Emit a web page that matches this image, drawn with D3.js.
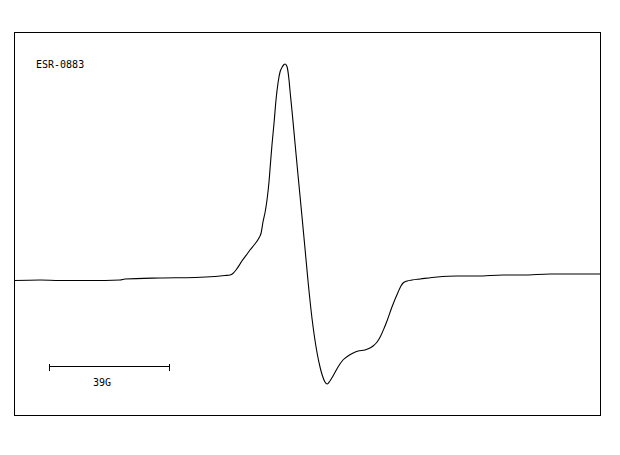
<!DOCTYPE html>
<html>
<head>
<meta charset="utf-8">
<script src="https://cdn.jsdelivr.net/npm/d3@7"></script>
<style>
  html, body { margin: 0; padding: 0; background: #fff; }
  svg { display: block; }
  text { font-family: "DejaVu Sans Mono", monospace; font-size: 10px; fill: #000; }
</style>
</head>
<body>
<svg id="chart" width="620" height="455"></svg>
<script>
// Magnetic field (G, relative) and derivative intensity (arbitrary units)
const field = [0.0, 8.4, 14.8, 24.5, 34.2, 35.8, 47.1, 58.4, 64.8, 68.1, 69.7, 70.6, 71.6, 72.9, 73.5, 75.2, 76.1, 77.7, 79.0, 79.7, 80.3, 81.0, 81.6, 82.3, 82.6, 83.2, 83.9, 84.5, 85.2, 85.8, 86.5, 87.1, 87.4, 87.7, 88.1, 88.7, 89.0, 89.7, 90.6, 91.6, 92.9, 93.9, 94.8, 96.1, 97.7, 98.7, 99.4, 100.3, 101.0, 101.9, 102.9, 104.5, 106.1, 107.7, 109.4, 111.0, 113.2, 114.8, 115.8, 117.1, 118.1, 119.4, 120.3, 121.9, 123.9, 124.8, 125.5, 126.8, 128.4, 131.0, 136.5, 142.9, 149.4, 157.7, 164.2, 172.9, 181.0, 189.0];
const intensity = [-0.5, 0, -0.5, -0.5, 0, 1, 2, 2.5, 3.5, 4.5, 5, 6.5, 10, 16, 19, 26, 30, 36, 42, 47, 58, 68, 80, 100, 112, 135, 158, 180, 198, 208, 213, 215.5, 216, 215.5, 213, 200, 190, 168, 138, 105, 63, 30, 0, -38, -72, -87, -95, -102, -104, -101, -96, -87, -80, -76, -73, -71, -70, -68, -66, -62, -57, -48, -41, -27, -12, -6, -3, -1, 0, 1, 3, 4, 4, 5, 5, 6, 6, 6];
const sampleLabel = "ESR-0883";
const scaleBarStart = 11.3;   // G
const scaleBarLength = 39;    // G
const scaleBarLevel = -86;    // intensity units
const scaleBarLabel = "39G";

const svg = d3.select("#chart");
const frame = { left: 14, top: 32, right: 600, bottom: 415 };

const x = d3.scaleLinear().domain([0, 189]).range([frame.left, frame.right]);
const y = d3.scaleLinear().domain([-135, 248]).range([frame.bottom, frame.top]);

svg.append("rect")
  .attr("x", frame.left + 0.5).attr("y", frame.top + 0.5)
  .attr("width", frame.right - frame.left).attr("height", frame.bottom - frame.top)
  .attr("fill", "none").attr("stroke", "#000").attr("stroke-width", 1)
  .attr("shape-rendering", "crispEdges");

const pts = field.map((f, i) => [f, intensity[i]]);
const line = d3.line().x(d => x(d[0])).y(d => y(d[1])).curve(d3.curveMonotoneX);

svg.append("path")
  .attr("d", line(pts))
  .attr("fill", "none").attr("stroke", "#000").attr("stroke-width", 1.1);

// scale bar
const bx0 = x(scaleBarStart), bx1 = x(scaleBarStart + scaleBarLength), by = Math.round(y(scaleBarLevel)) + 0.5;
const g = svg.append("g").attr("stroke", "#000").attr("stroke-width", 1).attr("shape-rendering", "crispEdges");
g.append("line").attr("x1", bx0).attr("x2", bx1).attr("y1", by).attr("y2", by);
g.append("line").attr("x1", bx0).attr("x2", bx0).attr("y1", by - 3).attr("y2", by + 4);
g.append("line").attr("x1", bx1).attr("x2", bx1).attr("y1", by - 3).attr("y2", by + 4);

svg.append("text").attr("x", 93).attr("y", 386).text(scaleBarLabel);
svg.append("text").attr("x", 36).attr("y", 68).text(sampleLabel);
</script>
</body>
</html>
